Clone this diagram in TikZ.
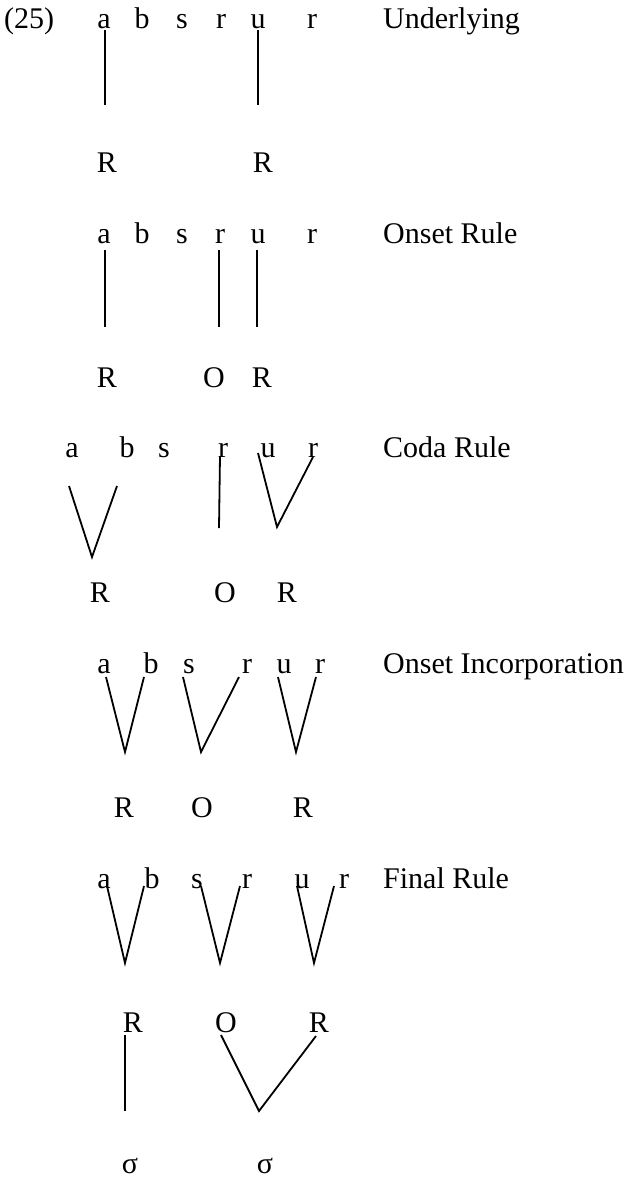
\documentclass[tikz,border=0pt]{standalone}
\usepackage{fontspec}
\setmainfont{Liberation Serif}
\begin{document}
\begin{tikzpicture}[x=1pt,y=-1pt,
  seg/.style={inner sep=0pt, anchor=base, font=\fontsize{30}{36}\selectfont},
  lab/.style={inner sep=0pt, anchor=base west, font=\fontsize{30}{36}\selectfont},
  ln/.style={line width=1.8pt}]
\useasboundingbox (0,0) rectangle (631,1181);

% ---------- Row 1: Underlying ----------
\node[lab] (num) at (4,28) {(25)};
\node[seg] (a1) at (104,28) {a};
\node[seg] (b1) at (142,28) {b};
\node[seg] (s1) at (182,28) {s};
\node[seg] (r1) at (221,28) {r};
\node[seg] (u1) at (258,28) {u};
\node[seg] (rr1) at (312,28) {r};
\node[lab] (L1) at (383,28) {Underlying};
\node[seg] (R1a) at (107,172) {R};
\node[seg] (R1b) at (263,172) {R};
\coordinate (p1a) at (105,30); \coordinate (q1a) at (105,105);
\coordinate (p1b) at (258,30); \coordinate (q1b) at (258,105);
\draw[ln] (p1a) -- (q1a);
\draw[ln] (p1b) -- (q1b);

% ---------- Row 2: Onset Rule ----------
\node[seg] (a2) at (104,243) {a};
\node[seg] (b2) at (142,243) {b};
\node[seg] (s2) at (182,243) {s};
\node[seg] (r2) at (220,243) {r};
\node[seg] (u2) at (258,243) {u};
\node[seg] (rr2) at (312,243) {r};
\node[lab] (L2) at (383,243) {Onset Rule};
\node[seg] (R2a) at (107,387) {R};
\node[seg] (O2) at (214,387) {O};
\node[seg] (R2b) at (262,387) {R};
\coordinate (p2a) at (105,250); \coordinate (q2a) at (105,327);
\coordinate (p2b) at (219,250); \coordinate (q2b) at (219,327);
\coordinate (p2c) at (257,250); \coordinate (q2c) at (257,327);
\draw[ln] (p2a) -- (q2a);
\draw[ln] (p2b) -- (q2b);
\draw[ln] (p2c) -- (q2c);

% ---------- Row 3: Coda Rule ----------
\node[seg] (a3) at (72,457) {a};
\node[seg] (b3) at (127,457) {b};
\node[seg] (s3) at (164,457) {s};
\node[seg] (r3) at (223,457) {r};
\node[seg] (u3) at (268,457) {u};
\node[seg] (rr3) at (313,457) {r};
\node[lab] (L3) at (383,457) {Coda Rule};
\node[seg] (R3a) at (100,602) {R};
\node[seg] (O3) at (225,602) {O};
\node[seg] (R3b) at (287,602) {R};
\coordinate (p3a) at (69,486); \coordinate (v3a) at (92,557); \coordinate (q3a) at (117,486);
\coordinate (p3b) at (220,456); \coordinate (q3b) at (219,528);
\coordinate (p3c) at (258,453); \coordinate (v3c) at (277,527); \coordinate (q3c) at (313,457);
\draw[ln] (p3a) -- (v3a) -- (q3a);
\draw[ln] (p3b) -- (q3b);
\draw[ln] (p3c) -- (v3c) -- (q3c);

% ---------- Row 4: Onset Incorporation ----------
\node[seg] (a4) at (104,673) {a};
\node[seg] (b4) at (151,673) {b};
\node[seg] (s4) at (189,673) {s};
\node[seg] (r4) at (247,673) {r};
\node[seg] (u4) at (284,673) {u};
\node[seg] (rr4) at (320,673) {r};
\node[lab] (L4) at (383,673) {Onset Incorporation};
\node[seg] (R4a) at (124,817) {R};
\node[seg] (O4) at (202,817) {O};
\node[seg] (R4b) at (303,817) {R};
\coordinate (p4a) at (106,677); \coordinate (v4a) at (125,752); \coordinate (q4a) at (144,677);
\coordinate (p4b) at (183,677); \coordinate (v4b) at (201,752); \coordinate (q4b) at (239,677);
\coordinate (p4c) at (278,677); \coordinate (v4c) at (296,752); \coordinate (q4c) at (316,677);
\draw[ln] (p4a) -- (v4a) -- (q4a);
\draw[ln] (p4b) -- (v4b) -- (q4b);
\draw[ln] (p4c) -- (v4c) -- (q4c);

% ---------- Row 5: Final Rule ----------
\node[seg] (a5) at (104,888) {a};
\node[seg] (b5) at (152,888) {b};
\node[seg] (s5) at (197,888) {s};
\node[seg] (r5) at (247,888) {r};
\node[seg] (u5) at (302,888) {u};
\node[seg] (rr5) at (344,888) {r};
\node[lab] (L5) at (383,888) {Final Rule};
\node[seg] (R5a) at (133,1032) {R};
\node[seg] (O5) at (226,1032) {O};
\node[seg] (R5b) at (319,1032) {R};
\coordinate (p5a) at (107,886); \coordinate (v5a) at (125,963); \coordinate (q5a) at (144,886);
\coordinate (p5b) at (201,886); \coordinate (v5b) at (220,963); \coordinate (q5b) at (240,886);
\coordinate (p5c) at (297,886); \coordinate (v5c) at (314,963); \coordinate (q5c) at (334,886);
\draw[ln] (p5a) -- (v5a) -- (q5a);
\draw[ln] (p5b) -- (v5b) -- (q5b);
\draw[ln] (p5c) -- (v5c) -- (q5c);

% ---------- Syllables ----------
\node[seg] (sig1) at (130,1173) {σ};
\node[seg] (sig2) at (265,1173) {σ};
\coordinate (p6a) at (125,1035); \coordinate (q6a) at (125,1111);
\coordinate (p6b) at (221,1035); \coordinate (v6b) at (259,1111); \coordinate (q6b) at (316,1036);
\draw[ln] (p6a) -- (q6a);
\draw[ln] (p6b) -- (v6b) -- (q6b);
\end{tikzpicture}
\end{document}
